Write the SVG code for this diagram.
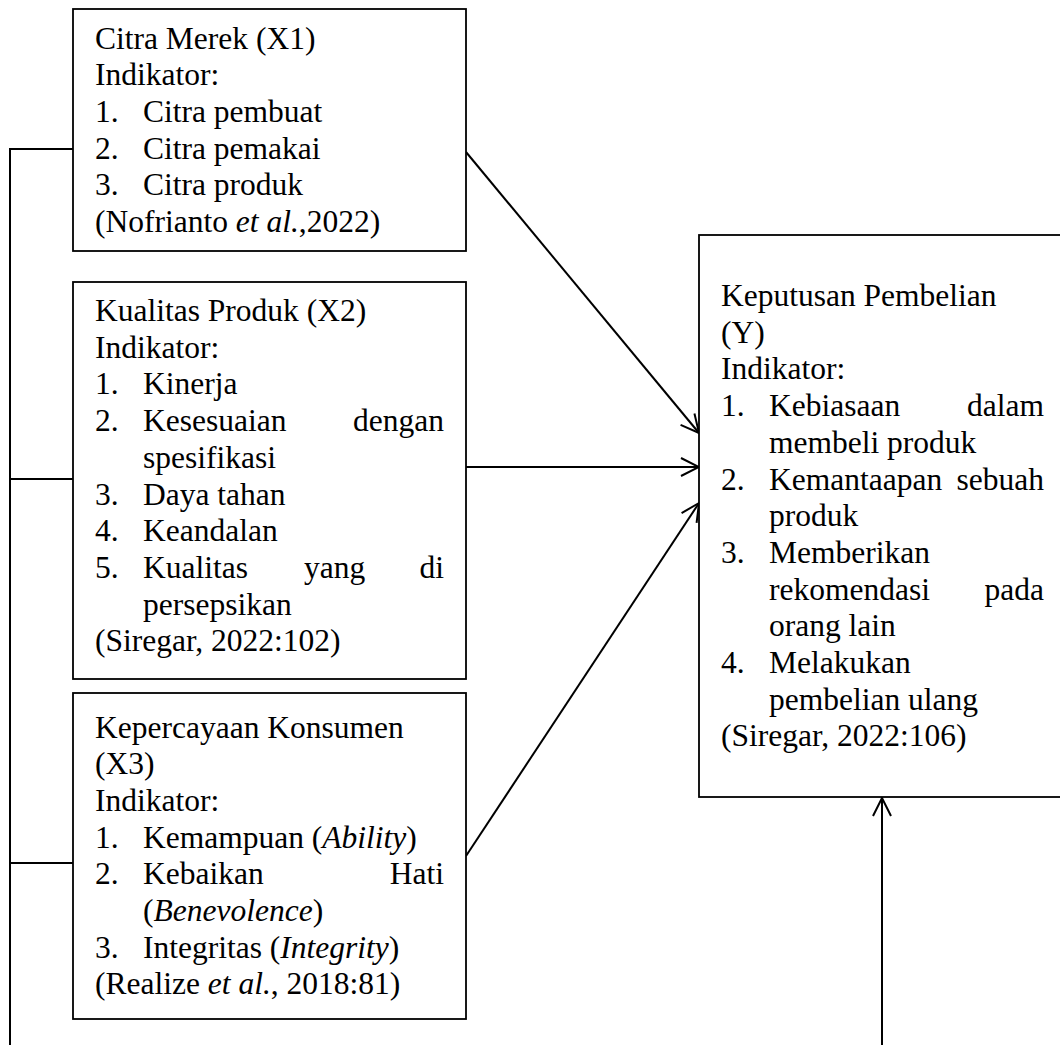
<svg xmlns="http://www.w3.org/2000/svg" width="1060" height="1045" viewBox="0 0 1060 1045">
<style>
.box{fill:#fff;stroke:#000;stroke-width:1.8}
.ln{fill:none;stroke:#000;stroke-width:2}
text{font-family:"Liberation Serif","Times New Roman",serif;font-size:31.5px;fill:#000}
.e{text-anchor:end}
.i{font-style:italic}
</style>
<defs>
<marker id="arr" viewBox="0 0 20 20" refX="19" refY="10" markerWidth="20" markerHeight="20" markerUnits="userSpaceOnUse" orient="auto">
<path d="M1,1 L19,10 L1,19" fill="none" stroke="#000" stroke-width="2"/>
</marker>
</defs>
<rect width="1060" height="1045" fill="#fff"/>
<g id="connectors">
<path class="ln" d="M10,1045 V149 H73"/>
<path class="ln" d="M10,479 H73"/>
<path class="ln" d="M10,863 H73"/>
<line class="ln" x1="466" y1="152" x2="699" y2="433" marker-end="url(#arr)"/>
<line class="ln" x1="466" y1="467" x2="699" y2="467" marker-end="url(#arr)"/>
<line class="ln" x1="466" y1="856" x2="699" y2="503" marker-end="url(#arr)"/>
<line class="ln" x1="882" y1="1045" x2="882" y2="798" marker-end="url(#arr)"/>
</g>
<g id="x1">
<rect class="box" x="73" y="9" width="393" height="242"/>
<text x="95" y="48.5">Citra Merek (X1)</text>
<text x="95" y="85.2">Indikator:</text>
<text x="95" y="121.9">1.</text><text x="143" y="121.9">Citra pembuat</text>
<text x="95" y="158.6">2.</text><text x="143" y="158.6">Citra pemakai</text>
<text x="95" y="195.3">3.</text><text x="143" y="195.3">Citra produk</text>
<text x="95" y="232">(Nofrianto <tspan class="i">et al.</tspan>,2022)</text>
</g>
<g id="x2">
<rect class="box" x="73" y="282" width="393" height="397"/>
<text x="95" y="321">Kualitas Produk (X2)</text>
<text x="95" y="357.7">Indikator:</text>
<text x="95" y="394.4">1.</text><text x="143" y="394.4">Kinerja</text>
<text x="95" y="431.1">2.</text><text x="143" y="431.1">Kesesuaian</text><text class="e" x="444" y="431.1">dengan</text>
<text x="143" y="467.8">spesifikasi</text>
<text x="95" y="504.5">3.</text><text x="143" y="504.5">Daya tahan</text>
<text x="95" y="541.2">4.</text><text x="143" y="541.2">Keandalan</text>
<text x="95" y="577.9">5.</text><text x="143" y="577.9">Kualitas</text><text x="304" y="577.9">yang</text><text class="e" x="444" y="577.9">di</text>
<text x="143" y="614.6">persepsikan</text>
<text x="95" y="651.3">(Siregar, 2022:102)</text>
</g>
<g id="x3">
<rect class="box" x="73" y="693" width="393" height="326"/>
<text x="95" y="737.5">Kepercayaan Konsumen</text>
<text x="95" y="774.2">(X3)</text>
<text x="95" y="810.9">Indikator:</text>
<text x="95" y="847.6">1.</text><text x="143" y="847.6">Kemampuan (<tspan class="i">Ability</tspan>)</text>
<text x="95" y="884.3">2.</text><text x="143" y="884.3">Kebaikan</text><text class="e" x="444" y="884.3">Hati</text>
<text x="143" y="921">(<tspan class="i">Benevolence</tspan>)</text>
<text x="95" y="957.7">3.</text><text x="143" y="957.7">Integritas (<tspan class="i">Integrity</tspan>)</text>
<text x="95" y="994.4">(Realize <tspan class="i">et al.</tspan>, 2018:81)</text>
</g>
<g id="y">
<rect class="box" x="699" y="235" width="380" height="562"/>
<text x="721" y="306">Keputusan Pembelian</text>
<text x="721" y="342.7">(Y)</text>
<text x="721" y="379.4">Indikator:</text>
<text x="721" y="416.1">1.</text><text x="769" y="416.1">Kebiasaan</text><text class="e" x="1044" y="416.1">dalam</text>
<text x="769" y="452.8">membeli produk</text>
<text x="721" y="489.5">2.</text><text x="769" y="489.5">Kemantaapan</text><text class="e" x="1044" y="489.5">sebuah</text>
<text x="769" y="526.2">produk</text>
<text x="721" y="562.9">3.</text><text x="769" y="562.9">Memberikan</text>
<text x="769" y="599.6">rekomendasi</text><text class="e" x="1044" y="599.6">pada</text>
<text x="769" y="636.3">orang lain</text>
<text x="721" y="673">4.</text><text x="769" y="673">Melakukan</text>
<text x="769" y="709.7">pembelian ulang</text>
<text x="721" y="746.4">(Siregar, 2022:106)</text>
</g>
</svg>
